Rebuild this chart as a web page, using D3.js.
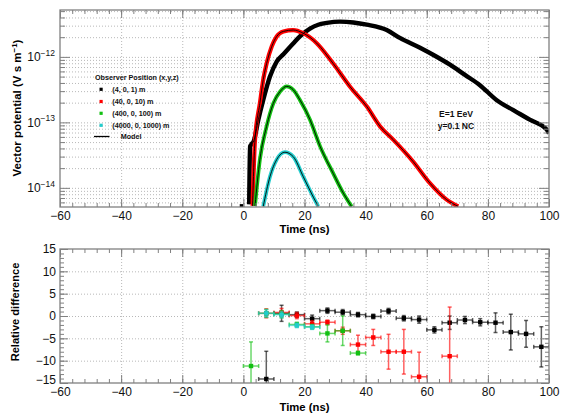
<!DOCTYPE html>
<html>
<head>
<meta charset="utf-8">
<script src="https://cdn.jsdelivr.net/npm/d3@7"></script>
<style>
  body { margin: 0; background: #fff; }
  text { font-family: "Liberation Sans", Arial, Helvetica, sans-serif; }
</style>
</head>
<body>
<svg id="chart" width="562" height="414"></svg>
<script>
// ---- Vector potential vs time, one series per observer position ----
const blackT = [1.9, 2.2, 2.6, 3.4, 4.9, 6.5, 8.7, 10.9, 13.1, 16.3, 18.5, 21.8, 24.5, 27.3, 31.6, 36.0, 40.4, 46.9, 51.2, 57.8, 62.5, 67.6, 72.5, 77.4, 82.8, 88.2, 93.7, 99.2, 100];
const blackV = [5.6e-15, 4.3e-14, 4.6e-14, 5.2e-14, 1.1e-13, 2.2e-13, 5.0e-13, 8.5e-13, 1.1e-12, 1.6e-12, 2.05e-12, 2.7e-12, 3.1e-12, 3.3e-12, 3.45e-12, 3.35e-12, 3.1e-12, 2.57e-12, 1.95e-12, 1.38e-12, 1.05e-12, 7.6e-13, 5.3e-13, 3.7e-13, 2.2e-13, 1.55e-13, 1.1e-13, 7.8e-14, 6.8e-14];
const blackEarlyT = [-0.6];
const blackEarlyV = [5.3e-15];

const redT = [3.0, 3.8, 5.4, 6.5, 7.6, 9.3, 10.9, 13.1, 16.3, 19.6, 24.0, 29.4, 34.9, 40.4, 44.7, 49.1, 55.6, 61.1, 66.5, 70.3];
const redV = [5.3e-15, 5.4e-14, 1.95e-13, 4.5e-13, 7.9e-13, 1.45e-12, 2.05e-12, 2.45e-12, 2.57e-12, 2.3e-12, 1.62e-12, 7.9e-13, 3.5e-13, 1.74e-13, 8.7e-14, 5.4e-14, 2.5e-14, 1.17e-14, 6.6e-15, 5.2e-15];

const greenT = [3.8, 5.4, 7.6, 9.8, 12.0, 14.2, 16.3, 18.5, 21.8, 25.1, 29.4, 32.7, 35.4];
const greenV = [5.3e-15, 2.7e-14, 8.7e-14, 1.95e-13, 2.95e-13, 3.55e-13, 3.15e-13, 2.2e-13, 1.1e-13, 4.3e-14, 1.66e-14, 8.3e-15, 5.2e-15];

const cyanT = [6.5, 8.7, 10.9, 13.6, 16.3, 19.6, 22.9, 24.5];
const cyanV = [5.2e-15, 1.48e-14, 2.7e-14, 3.5e-14, 3.0e-14, 1.48e-14, 7.2e-15, 5.2e-15];

// ---- Relative difference per 5 ns bin ----
const binHalfWidth = 2.5;
const resBlackT = [7.5, 12.5, 17.5, 22.5, 27.5, 32.5, 37.5, 42.5, 47.5, 52.5, 57.5, 62.5, 67.5, 72.5, 77.5, 82.5, 87.5, 92.5, 97.5];
const resBlackV = [-14.1, 0.6, 0.3, -0.6, 1.2, 0.85, 0.3, -0.1, 1.1, -0.5, -0.8, -3.1, -1.5, -0.9, -1.4, -1.5, -3.6, -4.0, -6.9];
const resBlackE = [6.2, 1.8, 0.6, 0.8, 0.6, 0.6, 0.5, 0.5, 0.6, 0.6, 0.8, 0.7, 1.5, 0.8, 0.8, 2.2, 4.0, 3.0, 4.5];

const resRedT = [7.5, 12.5, 17.5, 22.5, 27.5, 32.5, 37.5, 42.5, 47.5, 52.5, 57.5, 67.5];
const resRedV = [0.6, 0.8, 0.1, -1.75, -1.4, -3.3, -6.4, -4.8, -8.0, -8.0, -13.6, -9.0];
const resRedE = [1.0, 0.9, 0.7, 0.7, 0.5, 0.8, 2.1, 1.8, 3.9, 5.0, 5.5, 11.0];

const resGreenT = [2.5, 7.5, 12.5, 17.5, 22.5, 27.5, 32.5, 37.5];
const resGreenV = [-11.2, 0.6, 0.4, -1.9, -2.4, -3.9, -3.3, -8.3];
const resGreenE = [5.4, 0.9, 0.8, 0.5, 0.5, 1.9, 3.3, 0.4];

const resCyanT = [7.5, 12.5, 17.5, 22.5];
const resCyanV = [0.6, 0.3, -2.1, -2.5];
const resCyanE = [0.8, 0.7, 0.5, 0.5];

// ---- Labels ----
const legendTitle = "Observer Position (x,y,z)";
const observerLabels = ["(4, 0, 1) m", "(40, 0, 10) m", "(400, 0, 100) m", "(4000, 0, 1000) m"];
const modelLabel = "Model";
const infoLines = ["E=1 EeV", "y=0.1 NC"];
const xTicks = [-60, -40, -20, 0, 20, 40, 60, 80, 100];
const relTicks = [-15, -10, -5, 0, 5, 10, 15];

const colors = ["#000000", "#ff0000", "#12c012", "#22cccc"];

// ---- Layout ----
const svg = d3.select("#chart");
const plotLeft = 60, plotRight = 549;
const upper = { top: 10, bottom: 207 };
const lower = { top: 249, bottom: 383 };
const frameColor = "#808080";

const x = d3.scaleLinear().domain([-60, 100]).range([plotLeft, plotRight]);
const yPot = d3.scaleLog().domain([5.1e-15, 5.2e-12]).range([upper.bottom, upper.top]);
const yRel = d3.scaleLinear().domain([-15, 15]).range([lower.bottom, lower.top]);

svg.append("rect").attr("width", 562).attr("height", 414).attr("fill", "#fff");

const defs = svg.append("defs");
defs.append("clipPath").attr("id", "clipUpper").append("rect")
  .attr("x", plotLeft).attr("y", upper.top)
  .attr("width", plotRight - plotLeft).attr("height", upper.bottom - upper.top);
defs.append("clipPath").attr("id", "clipLower").append("rect")
  .attr("x", plotLeft).attr("y", lower.top)
  .attr("width", plotRight - plotLeft).attr("height", lower.bottom - lower.top);

function styleAxis(g) {
  g.select(".domain").remove();
  g.selectAll(".tick line").attr("stroke", frameColor).attr("stroke-width", 1);
  g.selectAll(".tick text").attr("font-size", 12).attr("fill", "#111")
    .attr("font-family", "'Liberation Sans', Arial, sans-serif");
}
function styleGrid(g) {
  g.select(".domain").remove();
  g.selectAll(".tick line").attr("stroke", "#b8b8b8").attr("stroke-width", 1)
    .attr("stroke-dasharray", "1,2");
}

const minorX = d3.range(-60, 100.1, 4);

// ---- Upper panel ----
const potAll = yPot.ticks();
const potMajor = potAll.filter(v => Math.abs(Math.log10(v) - Math.round(Math.log10(v))) < 1e-9);
const potMinor = potAll.filter(v => !potMajor.includes(v));

// grid
svg.append("g").attr("transform", `translate(0,${upper.bottom})`)
  .call(d3.axisBottom(x).tickValues(xTicks.slice(1, -1)).tickSize(-(upper.bottom - upper.top)).tickFormat(""))
  .call(styleGrid);
svg.append("g").attr("transform", `translate(${plotLeft},0)`)
  .call(d3.axisLeft(yPot).tickValues(potAll).tickSize(-(plotRight - plotLeft)).tickFormat(""))
  .call(styleGrid);

// data curves
const lineUpper = (ts, vs) => d3.line().curve(d3.curveMonotoneX)
  .x((d, i) => x(ts[i])).y((d, i) => yPot(vs[i]))(vs);

const upperData = svg.append("g").attr("clip-path", "url(#clipUpper)");
const seriesUpper = [[blackT, blackV, 4.4], [redT, redV, 4.2], [greenT, greenV, 3.8], [cyanT, cyanV, 3.8]];
seriesUpper.forEach(([ts, vs, w], k) => {
  upperData.append("path").attr("d", lineUpper(ts, vs))
    .attr("fill", "none").attr("stroke", colors[k]).attr("stroke-width", w)
    .attr("stroke-linejoin", "round");
});
upperData.selectAll("rect.early").data(blackEarlyV).join("rect").attr("class", "early")
  .attr("x", (d, i) => x(blackEarlyT[i]) - 1.8).attr("y", d => yPot(d) - 1.8)
  .attr("width", 3.6).attr("height", 3.6).attr("fill", "#000");
// model curves
seriesUpper.forEach(([ts, vs]) => {
  upperData.append("path").attr("d", lineUpper(ts, vs))
    .attr("fill", "none").attr("stroke", "#000").attr("stroke-width", 0.9);
});

// axes & frame
svg.append("g").attr("transform", `translate(0,${upper.bottom})`)
  .call(d3.axisBottom(x).tickValues(minorX).tickSize(-4).tickFormat("")).call(styleAxis);
svg.append("g").attr("transform", `translate(0,${upper.bottom})`)
  .call(d3.axisBottom(x).tickValues(xTicks).tickSize(-8).tickPadding(4)).call(styleAxis);
svg.append("g").attr("transform", `translate(0,${upper.top})`)
  .call(d3.axisTop(x).tickValues(minorX).tickSize(-4).tickFormat("")).call(styleAxis);
svg.append("g").attr("transform", `translate(0,${upper.top})`)
  .call(d3.axisTop(x).tickValues(xTicks).tickSize(-8).tickFormat("")).call(styleAxis);

svg.append("g").attr("transform", `translate(${plotLeft},0)`)
  .call(d3.axisLeft(yPot).tickValues(potMinor).tickSize(-5).tickFormat("")).call(styleAxis);
const gPotY = svg.append("g").attr("transform", `translate(${plotLeft},0)`)
  .call(d3.axisLeft(yPot).tickValues(potMajor).tickSize(-10).tickPadding(5)).call(styleAxis);
gPotY.selectAll(".tick text").each(function(d) {
  const t = d3.select(this).text(null);
  t.append("tspan").text("10");
  t.append("tspan").attr("font-size", 8.5).attr("dy", "-0.62em")
    .text("\u2212" + Math.abs(Math.round(Math.log10(d))));
});
svg.append("g").attr("transform", `translate(${plotRight},0)`)
  .call(d3.axisRight(yPot).tickValues(potMinor).tickSize(-5).tickFormat("")).call(styleAxis);
svg.append("g").attr("transform", `translate(${plotRight},0)`)
  .call(d3.axisRight(yPot).tickValues(potMajor).tickSize(-10).tickFormat("")).call(styleAxis);

svg.append("rect").attr("x", plotLeft).attr("y", upper.top)
  .attr("width", plotRight - plotLeft).attr("height", upper.bottom - upper.top)
  .attr("fill", "none").attr("stroke", frameColor).attr("stroke-width", 1.3);

// titles
svg.append("text").attr("x", (plotLeft + plotRight) / 2).attr("y", 233)
  .attr("text-anchor", "middle").attr("font-weight", "bold").attr("font-size", 11.3)
  .text("Time (ns)");
const yTitle = svg.append("text").attr("transform", "translate(21,108) rotate(-90)")
  .attr("text-anchor", "middle").attr("font-weight", "bold").attr("font-size", 11.5);
yTitle.append("tspan").text("Vector potential (V s m");
yTitle.append("tspan").attr("font-size", 8).attr("dy", "-0.5em").text("\u22121");
yTitle.append("tspan").attr("dy", "0.36em").text(")");

// legend
const legend = svg.append("g").attr("font-weight", "bold").attr("font-size", 7.2).attr("fill", "#111");
legend.append("text").attr("x", 95).attr("y", 79.8).text(legendTitle);
const legendRowY = [89.3, 101.5, 113.3, 125.3];
observerLabels.forEach((lab, k) => {
  legend.append("rect").attr("x", 99.5).attr("y", legendRowY[k] - 1.6)
    .attr("width", 3.2).attr("height", 3.2).attr("fill", colors[k]);
  legend.append("text").attr("x", 112.3).attr("y", legendRowY[k] + 2.6).text(lab);
});
legend.append("line").attr("x1", 94).attr("x2", 109.5).attr("y1", 136.5).attr("y2", 136.5)
  .attr("stroke", "#000").attr("stroke-width", 1.3);
legend.append("text").attr("x", 120.7).attr("y", 139).text(modelLabel);

svg.selectAll("text.info").data(infoLines).join("text").attr("class", "info")
  .attr("x", 456).attr("y", (d, i) => 117.2 + i * 11.4)
  .attr("text-anchor", "middle").attr("font-weight", "bold").attr("font-size", 8.6)
  .attr("fill", "#111").text(d => d);

// ---- Lower panel ----
svg.append("g").attr("transform", `translate(0,${lower.bottom})`)
  .call(d3.axisBottom(x).tickValues(xTicks.slice(1, -1)).tickSize(-(lower.bottom - lower.top)).tickFormat(""))
  .call(styleGrid);
svg.append("g").attr("transform", `translate(${plotLeft},0)`)
  .call(d3.axisLeft(yRel).tickValues(relTicks.slice(1, -1)).tickSize(-(plotRight - plotLeft)).tickFormat(""))
  .call(styleGrid);

const lowerData = svg.append("g").attr("clip-path", "url(#clipLower)");
const seriesLower = [
  [resBlackT, resBlackV, resBlackE],
  [resRedT, resRedV, resRedE],
  [resGreenT, resGreenV, resGreenE],
  [resCyanT, resCyanV, resCyanE]
];
const cap = 2;
seriesLower.forEach(([ts, vs, es], k) => {
  const g = lowerData.append("g");
  const bars = g.append("g").attr("stroke", colors[k]).attr("stroke-opacity", 0.62)
    .attr("stroke-width", 1.5);
  vs.forEach((v, i) => {
    const cx = x(ts[i]), cy = yRel(v);
    const xl = x(ts[i] - binHalfWidth), xr = x(ts[i] + binHalfWidth);
    const yt = yRel(v + es[i]), yb = yRel(v - es[i]);
    bars.append("line").attr("x1", xl).attr("x2", xr).attr("y1", cy).attr("y2", cy);
    bars.append("line").attr("x1", xl).attr("x2", xl).attr("y1", cy - cap).attr("y2", cy + cap);
    bars.append("line").attr("x1", xr).attr("x2", xr).attr("y1", cy - cap).attr("y2", cy + cap);
    bars.append("line").attr("x1", cx).attr("x2", cx).attr("y1", yt).attr("y2", yb);
    bars.append("line").attr("x1", cx - cap).attr("x2", cx + cap).attr("y1", yt).attr("y2", yt);
    bars.append("line").attr("x1", cx - cap).attr("x2", cx + cap).attr("y1", yb).attr("y2", yb);
  });
  g.selectAll("rect").data(vs).join("rect")
    .attr("x", (d, i) => x(ts[i]) - 2.2).attr("y", d => yRel(d) - 2.2)
    .attr("width", 4.4).attr("height", 4.4).attr("fill", colors[k]);
});

svg.append("g").attr("transform", `translate(0,${lower.bottom})`)
  .call(d3.axisBottom(x).tickValues(minorX).tickSize(-4).tickFormat("")).call(styleAxis);
svg.append("g").attr("transform", `translate(0,${lower.bottom})`)
  .call(d3.axisBottom(x).tickValues(xTicks).tickSize(-8).tickPadding(4)).call(styleAxis);
svg.append("g").attr("transform", `translate(0,${lower.top})`)
  .call(d3.axisTop(x).tickValues(minorX).tickSize(-4).tickFormat("")).call(styleAxis);
svg.append("g").attr("transform", `translate(0,${lower.top})`)
  .call(d3.axisTop(x).tickValues(xTicks).tickSize(-8).tickFormat("")).call(styleAxis);
const minorRel = d3.range(-15, 15.1, 1);
svg.append("g").attr("transform", `translate(${plotLeft},0)`)
  .call(d3.axisLeft(yRel).tickValues(minorRel).tickSize(-4).tickFormat("")).call(styleAxis);
const gRelY = svg.append("g").attr("transform", `translate(${plotLeft},0)`)
  .call(d3.axisLeft(yRel).tickValues(relTicks).tickSize(-8).tickPadding(4)).call(styleAxis);
// lowest label sits just above the frame corner
gRelY.selectAll(".tick text").filter(d => d === relTicks[0]).attr("dy", "0.05em");
svg.append("g").attr("transform", `translate(${plotRight},0)`)
  .call(d3.axisRight(yRel).tickValues(minorRel).tickSize(-4).tickFormat("")).call(styleAxis);
svg.append("g").attr("transform", `translate(${plotRight},0)`)
  .call(d3.axisRight(yRel).tickValues(relTicks).tickSize(-8).tickFormat("")).call(styleAxis);

svg.append("rect").attr("x", plotLeft).attr("y", lower.top)
  .attr("width", plotRight - plotLeft).attr("height", lower.bottom - lower.top)
  .attr("fill", "none").attr("stroke", frameColor).attr("stroke-width", 1.3);

svg.append("text").attr("x", (plotLeft + plotRight) / 2).attr("y", 410.5)
  .attr("text-anchor", "middle").attr("font-weight", "bold").attr("font-size", 11.3)
  .text("Time (ns)");
svg.append("text").attr("transform", "translate(19,312) rotate(-90)")
  .attr("text-anchor", "middle").attr("font-weight", "bold").attr("font-size", 11.1)
  .text("Relative difference");
</script>
</body>
</html>
